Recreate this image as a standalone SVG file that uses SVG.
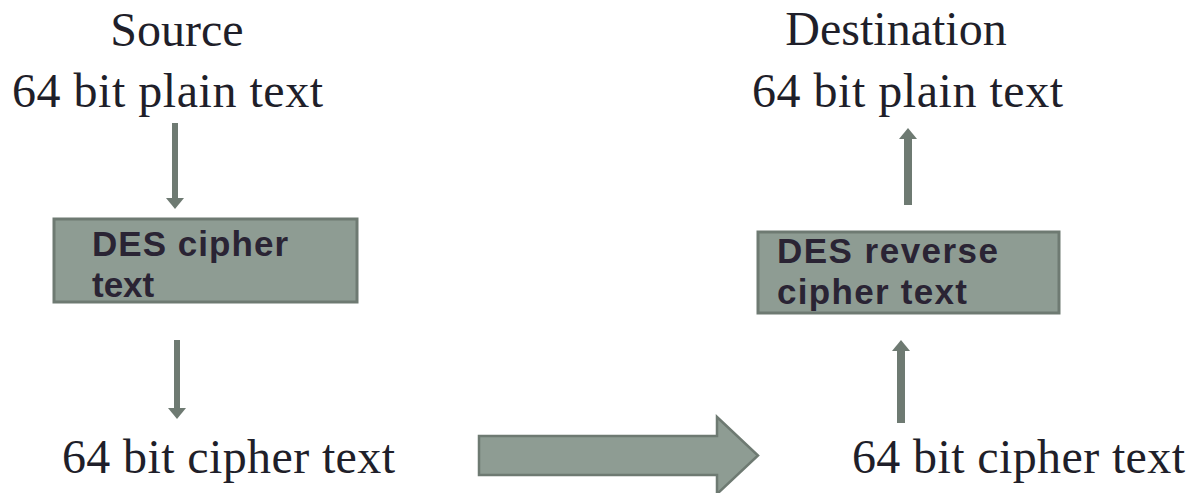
<svg xmlns="http://www.w3.org/2000/svg" width="1196" height="493" viewBox="0 0 1196 493">
<style>
.lbl{font-family:"Liberation Serif","Times New Roman",serif;font-size:48px;fill:#1f1f2a}
.box{fill:#8e9c93;stroke:#6e7a72;stroke-width:3}
.btxt{font-family:"Liberation Sans",Arial,sans-serif;font-weight:bold;font-size:35px;fill:#2a2434}
.conn{stroke:#6e7a72;stroke-width:6;fill:none}
.conn.thick{stroke-width:8}
</style>
<defs>
<marker id="ah" markerUnits="userSpaceOnUse" markerWidth="11" markerHeight="18" refX="1" refY="9" orient="auto" viewBox="0 0 11 18">
<path d="M0,0 L11,9 L0,18 Z" fill="#6e7a72"/>
</marker>
</defs>
<rect width="1196" height="493" fill="#ffffff"/>
<g id="source-label">
<text class="lbl" x="177" y="46" text-anchor="middle">Source</text>
<text class="lbl" x="12" y="107" textLength="311" lengthAdjust="spacing">64 bit plain text</text>
</g>
<g id="dest-label">
<text class="lbl" x="896" y="45" text-anchor="middle">Destination</text>
<text class="lbl" x="752" y="107" textLength="311" lengthAdjust="spacing">64 bit plain text</text>
</g>
<g id="des-cipher">
<rect class="box" x="54" y="219" width="303" height="83"/>
<text class="btxt" x="92" y="256" textLength="196" lengthAdjust="spacing">DES cipher</text>
<text class="btxt" x="92" y="297">text</text>
</g>
<g id="des-reverse">
<rect class="box" x="758" y="232" width="301" height="81"/>
<text class="btxt" x="777" y="263" textLength="221" lengthAdjust="spacing">DES reverse</text>
<text class="btxt" x="777" y="304" textLength="190" lengthAdjust="spacing">cipher text</text>
</g>
<g id="cipher-left">
<text class="lbl" x="62" y="473" textLength="333" lengthAdjust="spacing">64 bit cipher text</text>
</g>
<g id="cipher-right">
<text class="lbl" x="852" y="473" textLength="333" lengthAdjust="spacing">64 bit cipher text</text>
</g>
<g id="connectors">
<line class="conn" x1="175" y1="123" x2="175" y2="199" marker-end="url(#ah)"/>
<line class="conn" x1="177" y1="340" x2="177" y2="409" marker-end="url(#ah)"/>
<line class="conn thick" x1="908" y1="205" x2="908" y2="138" marker-end="url(#ah)"/>
<line class="conn thick" x1="901" y1="423" x2="901" y2="350" marker-end="url(#ah)"/>
<polygon points="479,436 717,436 717,417 758,455.5 717,494 717,475 479,475" fill="#8e9c93" stroke="#6e7a72" stroke-width="2.5"/>
</g>
</svg>
